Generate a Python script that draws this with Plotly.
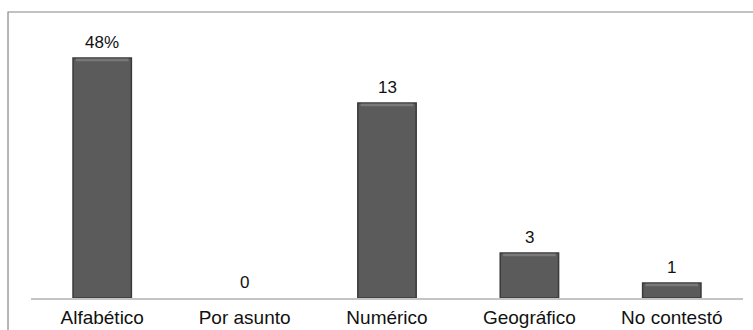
import plotly.graph_objects as go

# Archive ordering methods reported by respondents
categories = ["Alfabético", "Por asunto", "Numérico", "Geográfico", "No contestó"]
counts = [16, 0, 13, 3, 1]
total = sum(counts)

# First bar is labelled as a share of all answers, the rest as raw counts
labels = [f"{round(counts[0] / total * 100)}%"] + [str(c) for c in counts[1:]]

FONT = "Arial, Liberation Sans, sans-serif"
BAR_FILL = "#5b5b5b"
BAR_EDGE = "#3a3a3a"
BEVEL = "#8e8e8e"
BAR_WIDTH = 0.41

fig = go.Figure()
fig.add_trace(go.Bar(
    x=categories,
    y=counts,
    width=BAR_WIDTH,
    marker=dict(
        color=BAR_FILL,
        line=dict(color=BAR_EDGE, width=[1.5 if c > 0 else 0 for c in counts]),
    ),
    hoverinfo="x+y",
))

# Value labels above each bar
for cat, val, lab in zip(categories, counts, labels):
    fig.add_annotation(
        x=cat, y=val, text=lab, showarrow=False,
        yanchor="bottom", yshift=4,
        font=dict(family=FONT, size=17, color="#111111"),
    )

# Light bevel along the top of each bar
for i, val in enumerate(counts):
    if val > 0:
        fig.add_shape(
            type="rect", xref="x", yref="y",
            x0=i - BAR_WIDTH / 2 + 0.02, x1=i + BAR_WIDTH / 2 - 0.02,
            y0=val - 0.22, y1=val - 0.04,
            fillcolor=BEVEL, line=dict(width=0), opacity=0.6, layer="above",
        )

# Outer frame around the chart
fig.add_shape(
    type="rect", xref="paper", yref="paper",
    x0=-0.0323, x1=1.2, y0=-0.3, y1=1.0288,
    line=dict(color="#858585", width=1.2), fillcolor="rgba(0,0,0,0)",
)

fig.update_layout(
    width=753, height=330,
    margin=dict(l=31, r=10, t=20, b=32),
    paper_bgcolor="white", plot_bgcolor="white",
    showlegend=False,
    bargap=0.59,
    font=dict(family=FONT, size=17, color="#111111"),
    xaxis=dict(
        showline=True, linecolor="#c4c4c4", linewidth=1.5,
        showgrid=False, ticks="", tickfont=dict(size=19),
        ticklabelstandoff=1, automargin=False,
    ),
    yaxis=dict(
        range=[0, 18.53], visible=False, showgrid=False, zeroline=False,
        automargin=False,
    ),
)

fig.write_html("out.html")
